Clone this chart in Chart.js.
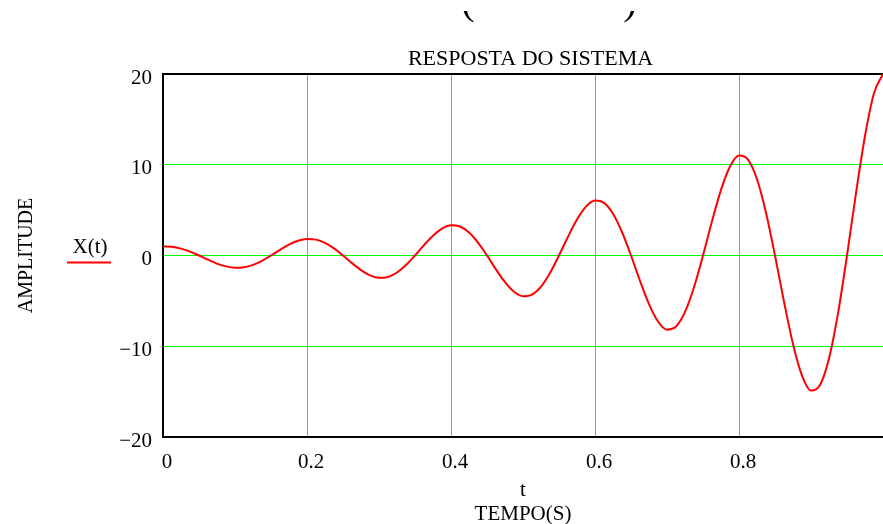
<!DOCTYPE html>
<html>
<head>
<meta charset="utf-8">
<script src="https://cdn.jsdelivr.net/npm/chart.js@4/dist/chart.umd.min.js"></script>
<style>
  html, body { margin: 0; padding: 0; background: #fff; }
  #wrap { width: 883px; height: 524px; position: relative; }
</style>
</head>
<body>
<div id="wrap"><canvas id="c"></canvas></div>
<script>
const chartTitle = 'RESPOSTA DO SISTEMA';
const seriesName = 'X(t)';
const xTitleLines = ['t', 'TEMPO(S)'];
const yTitle = 'AMPLITUDE';
const xTickLabels = ['0', '0.2', '0.4', '0.6', '0.8', ''];
const yTickLabels = ['\u221220', '\u221210', '0', '10', '20'];

const tValues = [
  0, 0.0125, 0.025, 0.0375, 0.05, 0.0625, 0.075, 0.0875, 0.1, 0.1125,
  0.125, 0.1375, 0.15, 0.1625, 0.175, 0.1875, 0.2, 0.2125, 0.225, 0.2375,
  0.25, 0.2625, 0.275, 0.2875, 0.3, 0.3125, 0.325, 0.3375, 0.35, 0.3625,
  0.375, 0.3875, 0.4, 0.4125, 0.425, 0.4375, 0.45, 0.4625, 0.475, 0.4875,
  0.5, 0.5125, 0.525, 0.5375, 0.55, 0.5625, 0.575, 0.5875, 0.6, 0.6125,
  0.625, 0.6375, 0.65, 0.6625, 0.675, 0.6875, 0.7, 0.7125, 0.725, 0.7375,
  0.75, 0.7625, 0.775, 0.7875, 0.8, 0.8125, 0.825, 0.8375, 0.85, 0.8625,
  0.875, 0.8875, 0.9, 0.9125, 0.925, 0.9375, 0.95, 0.9625, 0.975, 0.9875,
  1.0
];
const xValues = [
  1.00, 0.96, 0.76, 0.43, 0.00, -0.46, -0.89, -1.20, -1.35, -1.29,
  -1.03, -0.58, 0.00, 0.62, 1.20, 1.62, 1.82, 1.75, 1.39, 0.78,
  0.00, -0.84, -1.61, -2.19, -2.46, -2.36, -1.87, -1.05, 0.00, 1.14,
  2.18, 2.95, 3.32, 3.19, 2.53, 1.42, 0.00, -1.53, -2.94, -3.99,
  -4.48, -4.30, -3.42, -1.92, 0.00, 2.07, 3.97, 5.38, 6.05, 5.80,
  4.61, 2.59, 0.00, -2.79, -5.36, -7.27, -8.17, -7.83, -6.22, -3.50,
  0.00, 3.77, 7.23, 9.81, 11.02, 10.57, 8.40, 4.72, 0.00, -5.09,
  -9.76, -13.24, -14.88, -14.27, -11.34, -6.38, 0.00, 6.87, 13.17, 17.88,
  20.00
];

const points = tValues.map((t, i) => ({ x: t, y: xValues[i] }));
const SERIF = '"Liberation Serif", "Times New Roman", serif';
const GRID = '#00ff00';

const decorPlugin = {
  id: 'decor',
  afterDraw(chart) {
    const ctx = chart.ctx;
    ctx.save();
    ctx.fillStyle = '#000';
    ctx.textBaseline = 'alphabetic';
    // main title
    ctx.font = '22px ' + SERIF;
    ctx.textAlign = 'center';
    ctx.fillText(chartTitle, 530.5, 65);
    // fragment of large parentheses at the top (only lower curl visible)
    ctx.save();
    ctx.beginPath();
    ctx.rect(0, 11, 883, 14);
    ctx.clip();
    ctx.font = '40px ' + SERIF;
    ctx.fillText('(', 468, 14);
    ctx.fillText(')', 630, 14);
    ctx.restore();
    // legend
    ctx.font = '21px ' + SERIF;
    ctx.fillText(seriesName, 90, 253);
    ctx.strokeStyle = '#ff0000';
    ctx.lineWidth = 2;
    ctx.beginPath();
    ctx.moveTo(67, 262.5);
    ctx.lineTo(111, 262.5);
    ctx.stroke();
    ctx.restore();
  }
};

new Chart(document.getElementById('c'), {
  type: 'line',
  data: {
    datasets: [{
      label: seriesName,
      data: points,
      borderColor: '#ff0000',
      borderWidth: 2,
      pointRadius: 0,
      cubicInterpolationMode: 'monotone',
      fill: false
    }]
  },
  options: {
    responsive: true,
    maintainAspectRatio: false,
    animation: false,
    layout: { padding: { top: 74, left: 0, right: 0, bottom: 0 } },
    plugins: {
      legend: { display: false },
      title: { display: false },
      tooltip: { enabled: false }
    },
    scales: {
      x: {
        type: 'linear',
        min: 0,
        max: 1,
        ticks: {
          stepSize: 0.2,
          autoSkip: false,
          maxRotation: 0,
          padding: 13,
          labelOffset: 4,
          color: '#000',
          font: { family: SERIF, size: 21 },
          callback: (v, i) => xTickLabels[i]
        },
        grid: {
          drawTicks: false,
          color: c => (c.index === 0 || c.index >= 5) ? 'rgba(0,0,0,0)' : GRID,
          lineWidth: 1
        },
        border: { display: true, color: '#000', width: 2 },
        title: {
          display: true,
          text: xTitleLines,
          color: '#000',
          font: { family: SERIF, size: 21, lineHeight: '24px' },
          padding: { top: 0, bottom: -2 }
        },
        afterFit: s => { s.height = 87; s.paddingLeft = 0; s.paddingRight = 0; }
      },
      y: {
        min: -20,
        max: 20,
        ticks: {
          stepSize: 10,
          autoSkip: false,
          padding: 11,
          labelOffset: 4,
          color: '#000',
          font: { family: SERIF, size: 21 },
          callback: (v, i) => yTickLabels[i]
        },
        grid: {
          drawTicks: false,
          color: c => c.tick && c.tick.value === 20 ? '#000' : (c.tick && c.tick.value === -20 ? 'rgba(0,0,0,0)' : GRID),
          lineWidth: c => c.tick && c.tick.value === 20 ? 2 : 1
        },
        border: { display: true, color: '#000', width: 2 },
        title: {
          display: true,
          text: yTitle,
          color: '#000',
          font: { family: SERIF, size: 20 },
          padding: { top: 15, bottom: 0 }
        },
        afterFit: s => { s.width = 163; s.paddingTop = 0; s.paddingBottom = 0; }
      }
    }
  },
  plugins: [decorPlugin]
});
</script>
</body>
</html>
